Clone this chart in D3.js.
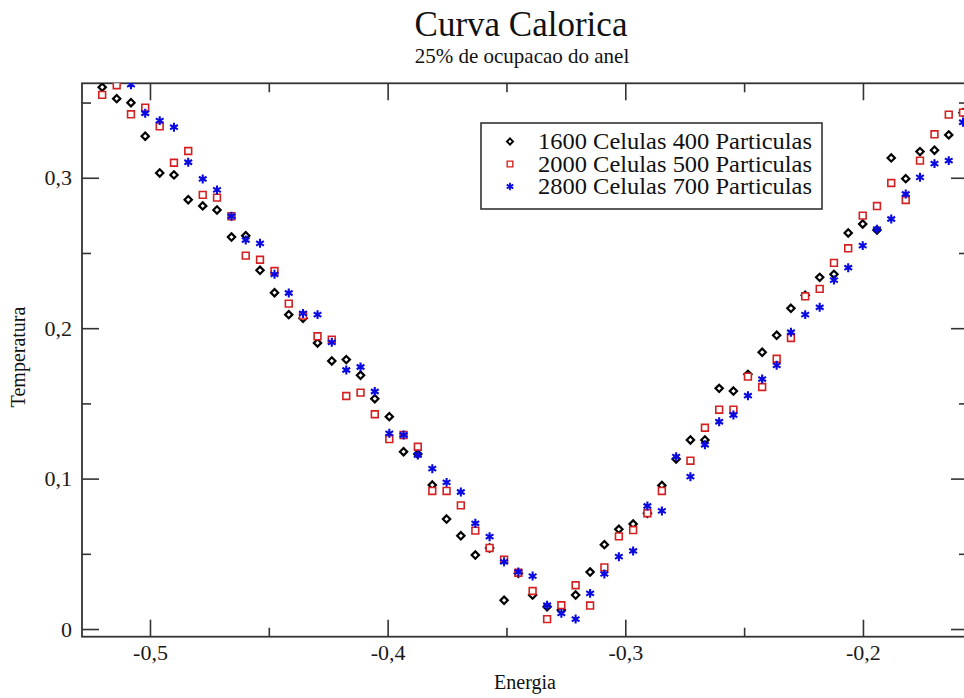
<!DOCTYPE html>
<html>
<head>
<meta charset="utf-8">
<script src="https://cdn.jsdelivr.net/npm/d3@7"></script>
<style>
  html, body { margin: 0; padding: 0; background: #fff; overflow: hidden; }
  svg { display: block; }
  svg text { font-family: "Liberation Serif", serif; }
</style>
</head>
<body>
<script>
// Energy grid shared by the three runs
const energia = [
  -0.5201, -0.5140, -0.5080, -0.5020, -0.4959, -0.4899, -0.4839, -0.4778, -0.4718, -0.4657,
  -0.4597, -0.4537, -0.4476, -0.4416, -0.4356, -0.4295, -0.4235, -0.4174, -0.4114, -0.4054,
  -0.3993, -0.3933, -0.3873, -0.3812, -0.3752, -0.3692, -0.3631, -0.3571, -0.3510, -0.3450,
  -0.3390, -0.3329, -0.3269, -0.3209, -0.3148, -0.3088, -0.3027, -0.2967, -0.2907, -0.2846,
  -0.2786, -0.2726, -0.2665, -0.2605, -0.2545, -0.2484, -0.2424, -0.2363, -0.2303, -0.2243,
  -0.2182, -0.2122, -0.2062, -0.2001, -0.1941, -0.1881, -0.1820, -0.1760, -0.1699, -0.1639,
  -0.1579
];

// Temperature for 1600 cells / 400 particles
const temp1600 = [
  0.3602, 0.3526, 0.3499, 0.3276, 0.3032, 0.3019, 0.2854, 0.2813, 0.2786, 0.2606,
  0.2615, 0.2385, 0.2236, 0.2090, 0.2066, 0.1902, 0.1782, 0.1791, 0.1687, 0.1531,
  0.1412, 0.1179, 0.1164, 0.0957, 0.0731, 0.0620, 0.0492, 0.0539, 0.0191, 0.0370,
  0.0226, 0.0148, 0.0126, 0.0226, 0.0379, 0.0561, 0.0663, 0.0698, 0.0770, 0.0955,
  0.1130, 0.1257, 0.1257, 0.1600, 0.1582, 0.1693, 0.1840, 0.1953, 0.2132, 0.2219,
  0.2338, 0.2358, 0.2633, 0.2693, 0.2653, 0.3132, 0.2994, 0.3174, 0.3183, 0.3285,
  0.3433
];

// Temperature for 2000 cells / 500 particles
const temp2000 = [
  0.3551, 0.3615, 0.3422, 0.3466, 0.3342, 0.3100, 0.3178, 0.2886, 0.2868, 0.2744,
  0.2482, 0.2455, 0.2380, 0.2163, 0.2084, 0.1946, 0.1924, 0.1549, 0.1572, 0.1428,
  0.1263, 0.1290, 0.1212, 0.0918, 0.0918, 0.0822, 0.0654, 0.0539, 0.0461, 0.0374,
  0.0253, 0.0066, 0.0158, 0.0291, 0.0156, 0.0410, 0.0616, 0.0658, 0.0770, 0.0918,
  null,   0.1119, 0.1338, 0.1458, 0.1458, 0.1678, 0.1609, 0.1797, 0.1935, 0.2212,
  0.2261, 0.2434, 0.2531, 0.2748, 0.2812, 0.2965, 0.2852, 0.3114, 0.3289, 0.3420,
  0.3433
];

// Temperature for 2800 cells / 700 particles
const temp2800 = [
  null,   null,   0.3619, 0.3429, 0.3380, 0.3336, 0.3103, 0.2992, 0.2919, 0.2744,
  0.2586, 0.2564, 0.2358, 0.2234, 0.2098, 0.2090, 0.1906, 0.1722, 0.1742, 0.1579,
  0.1301, 0.1290, 0.1157, 0.1066, 0.0975, 0.0911, 0.0703, 0.0614, 0.0447, 0.0379,
  0.0352, 0.0158, 0.0104, 0.0066, 0.0237, 0.0366, 0.0481, 0.0519, 0.0818, 0.0785,
  0.1146, 0.1013, 0.1225, 0.1378, 0.1423, 0.1551, 0.1662, 0.1753, 0.1973, 0.2090,
  0.2139, 0.2320, 0.2402, 0.2549, 0.2658, 0.2726, 0.2892, 0.3003, 0.3094, 0.3114,
  0.3369
];

const seriesNames = [
  "1600 Celulas 400 Particulas",
  "2000 Celulas 500 Particulas",
  "2800 Celulas 700 Particulas"
];

const xMajorTicks = [-0.5, -0.4, -0.3, -0.2];
const xMinorTicks = [-0.45, -0.35, -0.25, -0.15];
const yMajorTicks = [0, 0.1, 0.2, 0.3];
const yMinorTicks = [0.05, 0.15, 0.25, 0.35];

const W = 964, H = 698;
const frame = { left: 82, top: 83.3, right: 968, bottom: 636.7 };
const SERIF = "Liberation Serif";

const svg = d3.select("body").append("svg")
  .attr("width", W).attr("height", H);

const x = d3.scaleLinear().domain([-0.5286, -0.1558]).range([frame.left, frame.right]);
const y = d3.scaleLinear().domain([-0.0051, 0.3628]).range([frame.bottom, frame.top]);

const comma = d3.formatLocale({ decimal: ",", thousands: ".", grouping: [3], currency: ["", ""], minus: "-" });
const fmt1 = comma.format(".1f");
const tickFmt = d => (d === 0 ? "0" : fmt1(d));

const frameColor = "#333";
const majorLen = 17, minorLen = 9;

function styleAxis(g) {
  g.attr("font-family", SERIF);
  g.select(".domain").remove();
  g.selectAll(".tick line").attr("stroke", frameColor).attr("stroke-width", 1.6);
  g.selectAll(".tick text").attr("font-size", 22).attr("fill", "#1a1a1a");
}

// bottom axis with labels
svg.append("g")
  .attr("transform", `translate(0,${frame.bottom})`)
  .call(d3.axisBottom(x).tickValues(xMajorTicks).tickSize(-majorLen).tickPadding(8).tickFormat(tickFmt))
  .call(styleAxis);
svg.append("g")
  .attr("transform", `translate(0,${frame.bottom})`)
  .call(d3.axisBottom(x).tickValues(xMinorTicks).tickSize(-minorLen).tickFormat(""))
  .call(styleAxis);

// top axis (ticks only)
svg.append("g")
  .attr("transform", `translate(0,${frame.top})`)
  .call(d3.axisTop(x).tickValues(xMajorTicks).tickSize(-majorLen).tickFormat(""))
  .call(styleAxis);
svg.append("g")
  .attr("transform", `translate(0,${frame.top})`)
  .call(d3.axisTop(x).tickValues(xMinorTicks).tickSize(-minorLen).tickFormat(""))
  .call(styleAxis);

// left axis with labels
svg.append("g")
  .attr("transform", `translate(${frame.left},0)`)
  .call(d3.axisLeft(y).tickValues(yMajorTicks).tickSize(-majorLen).tickPadding(10).tickFormat(tickFmt))
  .call(styleAxis);
svg.append("g")
  .attr("transform", `translate(${frame.left},0)`)
  .call(d3.axisLeft(y).tickValues(yMinorTicks.filter(v => v < 0.36)).tickSize(-minorLen).tickFormat(""))
  .call(styleAxis);

// right axis (ticks only)
svg.append("g")
  .attr("transform", `translate(${frame.right},0)`)
  .call(d3.axisRight(y).tickValues(yMajorTicks).tickSize(-majorLen).tickFormat(""))
  .call(styleAxis);
svg.append("g")
  .attr("transform", `translate(${frame.right},0)`)
  .call(d3.axisRight(y).tickValues(yMinorTicks.filter(v => v < 0.36)).tickSize(-minorLen).tickFormat(""))
  .call(styleAxis);

// frame
svg.append("rect")
  .attr("x", frame.left).attr("y", frame.top)
  .attr("width", frame.right - frame.left).attr("height", frame.bottom - frame.top)
  .attr("fill", "none").attr("stroke", frameColor).attr("stroke-width", 1.8);

// clip region for the data markers
svg.append("clipPath").attr("id", "plot-clip")
  .append("rect")
  .attr("x", frame.left).attr("y", frame.top)
  .attr("width", frame.right - frame.left).attr("height", frame.bottom - frame.top);

const markerStyles = [
  { shape: d3.symbolDiamond2, size: 34, stroke: "#000", width: 2.2, fill: "#fff" },
  { shape: d3.symbolSquare, size: 46, stroke: "#d42020", width: 1.6, fill: "#fff" },
  { shape: d3.symbolAsterisk, size: 56, stroke: "#0a0ae0", width: 2.1, fill: "none" }
];

const series = [temp1600, temp2000, temp2800].map((vals, k) => ({
  name: seriesNames[k],
  style: markerStyles[k],
  points: energia.map((e, i) => ({ e, t: vals[i] })).filter(p => p.t !== null)
}));

const plot = svg.append("g").attr("clip-path", "url(#plot-clip)");
series.forEach(s => {
  plot.append("g").selectAll("path")
    .data(s.points)
    .join("path")
    .attr("transform", d => `translate(${x(d.e)},${y(d.t)})`)
    .attr("d", d3.symbol(s.style.shape, s.style.size))
    .attr("fill", s.style.fill)
    .attr("stroke", s.style.stroke)
    .attr("stroke-width", s.style.width);
});

function label(parent, size) {
  return parent.append("text")
    .attr("font-family", SERIF)
    .attr("font-size", size)
    .attr("fill", "#111");
}

// titles
label(svg, 35).attr("x", 521).attr("y", 36).attr("text-anchor", "middle").text("Curva Calorica");
label(svg, 21).attr("x", 522).attr("y", 63).attr("text-anchor", "middle").text("25% de ocupacao do anel");

// axis titles
label(svg, 20).attr("x", 525).attr("y", 689).attr("text-anchor", "middle").text("Energia");
label(svg, 20).attr("transform", "translate(25,357) rotate(-90)").attr("text-anchor", "middle").text("Temperatura");

// legend
const legend = svg.append("g");
legend.append("rect")
  .attr("x", 481).attr("y", 123)
  .attr("width", 341).attr("height", 86)
  .attr("fill", "#fff").attr("stroke", frameColor).attr("stroke-width", 1.6);
const rowY = [141.5, 164, 186.5];
series.forEach((s, k) => {
  legend.append("path")
    .attr("transform", `translate(510,${rowY[k]})`)
    .attr("d", d3.symbol(s.style.shape, s.style.size * 0.7))
    .attr("fill", s.style.fill)
    .attr("stroke", s.style.stroke)
    .attr("stroke-width", s.style.width * 0.85);
  label(legend, 22.5).attr("x", 538).attr("y", rowY[k]).attr("dy", "0.34em")
    .attr("textLength", 274).attr("lengthAdjust", "spacingAndGlyphs")
    .text(s.name);
});
</script>
</body>
</html>
